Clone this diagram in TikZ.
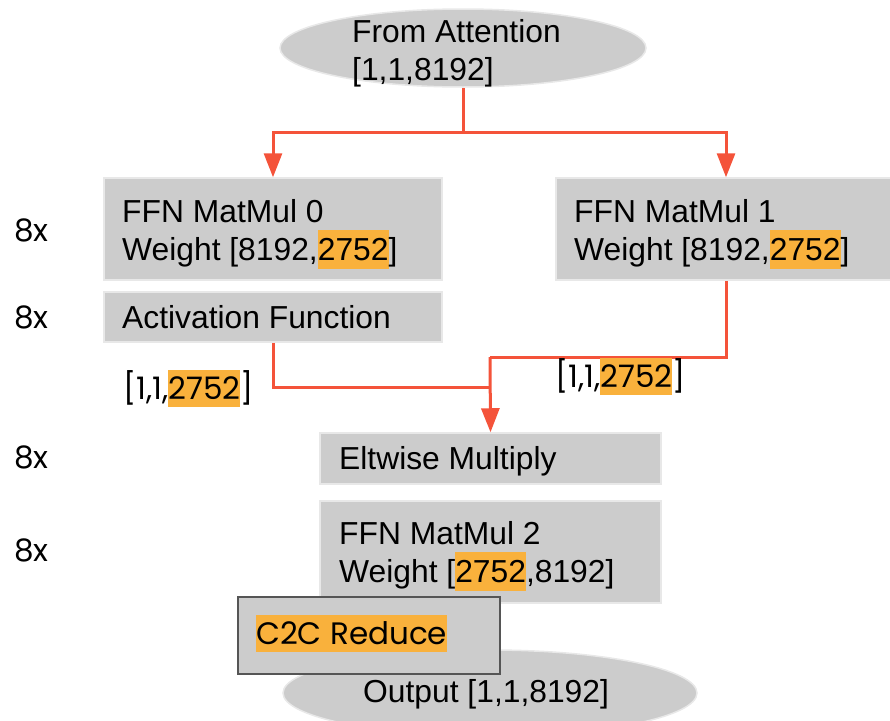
\documentclass[tikz,border=0pt]{standalone}
\usepackage{fontspec}
\setmainfont{Liberation Sans}
\newfontfamily\geofont{Poppins}
\usetikzlibrary{arrows.meta,shapes.geometric}

\definecolor{boxgray}{HTML}{CCCCCC}
\definecolor{edgegray}{HTML}{E8E8E8}
\definecolor{flowred}{HTML}{F4533A}
\definecolor{hlorange}{HTML}{F9B13C}
\definecolor{c2cedge}{HTML}{555555}

% orange highlight behind a number
\newcommand{\hl}[1]{{\setlength{\fboxsep}{0pt}\colorbox{hlorange}{\rule[-0.27em]{0pt}{1.22em}#1}}}

\tikzset{
  opbox/.style={rectangle, fill=boxgray, draw=edgegray, line width=1.5pt, inner sep=0pt},
  ioellipse/.style={ellipse, fill=boxgray, draw=edgegray, line width=1.5pt, inner sep=0pt},
  lbl/.style={anchor=base west, inner sep=0pt, font=\fontsize{31.8}{36}\selectfont},
  geolbl/.style={anchor=base west, inner sep=0pt, font=\geofont\fontsize{31}{36}\selectfont},
  flow/.style={draw=flowred, line width=3pt},
  flowarrow/.style={flow, -{Triangle[width=18pt,length=24pt]}},
}

\begin{document}
\begin{tikzpicture}[x=1pt, y=-1pt]
\useasboundingbox (0,0) rectangle (890,720);
\clip (0,0) rectangle (890,720);

% input ellipse
\node[ioellipse, minimum width=366pt, minimum height=78pt] (src) at (463,48) {};
\node[lbl] (srcA) at (352,42) {From Attention};
\node[lbl] (srcB) at (352,80) {[1,1,8192]};

% operator boxes
\node[opbox, minimum width=338pt, minimum height=102pt] (mm0) at (273,229) {};
\node[opbox, minimum width=340pt, minimum height=102pt] (mm1) at (726,229) {};
\node[opbox, minimum width=338pt, minimum height=50pt] (act) at (273,317) {};
\node[opbox, minimum width=341pt, minimum height=51pt] (mul) at (490.5,458.5) {};
\node[opbox, minimum width=341pt, minimum height=102pt] (mm2) at (490.5,552) {};

% output ellipse
\node[ioellipse, minimum width=414pt, minimum height=86pt] (dst) at (490,693) {};

% connectors
\coordinate (fork) at (463,132);
\coordinate (joinL) at (490,387);
\coordinate (joinR) at (490,357);
\draw[flow] (src.south) -- (fork);
\draw[flowarrow] (fork) -| (mm0.north);
\draw[flowarrow] (fork) -| (mm1.north);
\draw[flow] (act.south) |- (joinL);
\draw[flow] (mm1.south) |- (joinR);
\draw[flowarrow] (joinR) -- (mul.north);

% box texts
\node[lbl] (mm0A) at (122,222) {FFN MatMul 0};
\node[lbl] (mm0B) at (122,260) {Weight [8192,\hl{2752}]};
\node[lbl] (mm1A) at (574,222) {FFN MatMul 1};
\node[lbl] (mm1B) at (574,260) {Weight [8192,\hl{2752}]};
\node[lbl] (actT) at (122,328) {Activation Function};
\node[lbl] (mulT) at (339,469) {Eltwise Multiply};
\node[lbl] (mm2A) at (339,544) {FFN MatMul 2};
\node[lbl] (mm2B) at (339,582) {Weight [\hl{2752},8192]};

% tensor shape labels
\node[geolbl] (shapeL) at (123,399) {[1,1,\hl{2752}]};
\node[geolbl] (shapeR) at (555,387) {[1,1,\hl{2752}]};

% repeat counts
\node[geolbl] (rep0) at (14,241) {8x};
\node[geolbl] (rep1) at (14,328) {8x};
\node[geolbl] (rep2) at (14,468) {8x};
\node[geolbl] (rep3) at (14,561) {8x};

% reduction box over the output
\node[rectangle, fill=boxgray, draw=c2cedge, line width=2pt, minimum width=262pt, minimum height=77pt, inner sep=0pt] (c2c) at (368.5,635.5) {};
\node[geolbl] (c2cT) at (256,644) {\hl{C2C Reduce}};
\node[lbl] (dstT) at (363,702) {Output [1,1,8192]};
\end{tikzpicture}
\end{document}
